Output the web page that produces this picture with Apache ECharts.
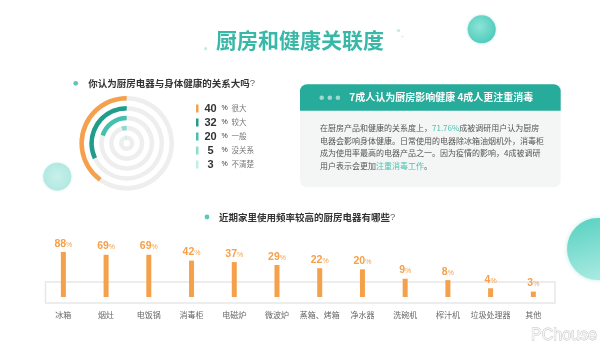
<!DOCTYPE html>
<html>
<head>
<meta charset="utf-8">
<script src="https://cdn.jsdelivr.net/npm/echarts@6/dist/echarts.min.js"></script>
<style>
html,body{margin:0;padding:0;background:#fff;}
#c{width:600px;height:345px;}
</style>
</head>
<body>
<div id="c"></div>
<script>
// ---- data ----
const titleText = '厨房和健康关联度';
const question1 = '你认为厨房电器与身体健康的关系大吗';
const question2 = '近期家里使用频率较高的厨房电器有哪些';
const ringLabels = ['很大', '较大', '一般', '没关系', '不清楚'];
const ringValues = [40, 32, 20, 5, 3];
const applianceNames = ['冰箱', '烟灶', '电饭锅', '消毒柜', '电磁炉', '微波炉', '蒸箱、烤箱', '净水器', '洗碗机', '榨汁机', '垃圾处理器', '其他'];
const applianceValues = [88, 69, 69, 42, 37, 29, 22, 20, 9, 8, 4, 3];
const cardTitle = '7成人认为厨房影响健康 4成人更注重消毒';
const cardLines = [
  ['在厨房产品和健康的关系度上，', '71.76%', '成被调研用户认为厨房'],
  ['电器会影响身体健康。日常使用的电器除冰箱油烟机外，消毒柜'],
  ['成为使用率最高的电器产品之一。因为疫情的影响，4成被调研'],
  ['用户表示会更加', '注重消毒工作', '。']
];

// ---- styles ----
const FONT = '"Liberation Sans", "Noto Sans CJK SC", sans-serif';
const CJK = '"Noto Sans CJK SC", "Liberation Sans", sans-serif';
const ringColors = ['#f6a04c', '#1f9c8a', '#45c0af', '#8fdccf', '#c4eee8'];
const orange = '#f5a04a';
const teal = '#3ab8a7';

const chart = echarts.init(document.getElementById('c'), null, {renderer: 'canvas'});

// polar ring series: one series per answer, each on its own ring
const ringCats = ringLabels.slice().reverse(); // inner -> outer
const ringSeries = ringLabels.map((name, i) => {
  const d = ringCats.map(c => (c === name ? ringValues[i] : '-'));
  return {
    type: 'bar',
    name: name,
    coordinateSystem: 'polar',
    stack: 'ring',
    data: d,
    barWidth: 4.5,
    itemStyle: {color: ringColors[i]},
    showBackground: i === 0,
    backgroundStyle: {color: '#eeeeee'},
    silent: true,
    z: 2
  };
});

// card body rich text
const bodyText = cardLines.map(parts => parts.map((p, k) => (parts.length === 3 && k === 1) ? '{h|' + p + '}' : p).join('')).join('\n');

const option = {
  animation: false,
  backgroundColor: '#ffffff',
  polar: {center: [126.7, 143.3], radius: [0.5, 50]},
  angleAxis: {type: 'value', min: 0, max: 100, startAngle: 90, clockwise: false, show: false},
  radiusAxis: {type: 'category', data: ringCats, show: false},
  legend: {
    data: ringLabels,
    orient: 'vertical',
    left: 196,
    top: 103,
    padding: 0,
    itemWidth: 2.5,
    itemHeight: 8,
    itemGap: 3,
    icon: 'rect',
    selectedMode: false,
    formatter: function (name) {
      const i = ringLabels.indexOf(name);
      return '{v|' + ringValues[i] + '}{p|%}{l|' + name + '}';
    },
    textStyle: {
      rich: {
        v: {fontSize: 11, fontWeight: 'bold', color: '#333', width: 14, align: 'center', lineHeight: 14, fontFamily: FONT},
        p: {fontSize: 7, color: '#333', width: 14, lineHeight: 14, fontFamily: FONT},
        l: {fontSize: 7.5, color: '#777', lineHeight: 14, fontFamily: CJK}
      }
    }
  },
  grid: {left: 42, right: 45.3, top: 250.4, bottom: 48, containLabel: false},
  xAxis: {
    type: 'category',
    data: applianceNames,
    axisLine: {show: false},
    axisTick: {show: false},
    splitLine: {show: false},
    axisLabel: {interval: 0, margin: 14, fontSize: 8, color: '#666', fontFamily: CJK}
  },
  yAxis: {
    type: 'log',
    logBase: 10,
    min: 1.9,
    max: 100,
    startValue: 1.9,
    show: false,
    splitLine: {show: false}
  },
  series: ringSeries.concat([{
    type: 'bar',
    name: 'appliances',
    data: applianceValues,
    barWidth: 5,
    clip: true,
    itemStyle: {color: orange},
    z: 3,
    label: {
      show: true,
      position: 'top',
      distance: 3,
      formatter: p => '{v|' + p.value + '}{p|%}',
      rich: {
        v: {fontSize: 10.5, fontWeight: 'bold', color: orange, fontFamily: FONT},
        p: {fontSize: 7, color: orange, fontFamily: FONT, padding: [2, 0, 0, 0]}
      }
    }
  }]),
  graphic: [
    // decorative spheres
    {type: 'circle', z: 0, silent: true, shape: {cx: 481.7, cy: 29.3, r: 14},
      style: {fill: new echarts.graphic.RadialGradient(0.42, 0.4, 0.65, [{offset: 0, color: '#8be4d7'}, {offset: 1, color: '#4ecabb'}]), shadowBlur: 3, shadowColor: 'rgba(78,202,187,0.4)'}},
    {type: 'circle', z: 0, silent: true, shape: {cx: 57.3, cy: 176.7, r: 14},
      style: {fill: new echarts.graphic.RadialGradient(0.5, 0.5, 0.6, [{offset: 0, color: '#c8f0ea'}, {offset: 1, color: '#ade7df'}]), shadowBlur: 3, shadowColor: 'rgba(173,231,223,0.5)'}},
    {type: 'circle', z: 0, silent: true, shape: {cx: 598, cy: 249, r: 31},
      style: {fill: new echarts.graphic.LinearGradient(0, 0, 0.3, 1, [{offset: 0, color: '#55d0c0'}, {offset: 1, color: '#a6e9e0'}]), shadowBlur: 4, shadowColor: 'rgba(85,208,192,0.4)'}},
    // title dots
    {type: 'circle', z: 0, silent: true, shape: {cx: 205.7, cy: 48.7, r: 1.6}, style: {fill: '#bfece5'}},
    {type: 'circle', z: 0, silent: true, shape: {cx: 398.5, cy: 30.6, r: 1.6}, style: {fill: '#bfece5'}},
    {type: 'circle', z: 0, silent: true, shape: {cx: 402.5, cy: 36.4, r: 1}, style: {fill: '#cfefe9'}},
    // title
    {type: 'text', z: 5, silent: true, style: {x: 300, y: 40, text: titleText, textAlign: 'center', textVerticalAlign: 'middle',
      fontSize: 21, fontWeight: 'bold', fontFamily: CJK, fill: teal}},
    // question 1
    {type: 'circle', z: 5, silent: true, shape: {cx: 75.7, cy: 83.3, r: 2.4}, style: {fill: '#5cc8b8'}},
    {type: 'text', z: 5, silent: true, style: {x: 88.3, y: 83.3, text: question1 + '{q|?}', textVerticalAlign: 'middle',
      fontSize: 9.5, fontWeight: 'bold', fontFamily: CJK, fill: '#333',
      rich: {q: {fontSize: 9.5, fontWeight: 'normal', fill: '#666', fontFamily: FONT}}}},
    // question 2
    {type: 'circle', z: 5, silent: true, shape: {cx: 207, cy: 217, r: 2.4}, style: {fill: '#5cc8b8'}},
    {type: 'text', z: 5, silent: true, style: {x: 219, y: 217, text: question2 + '{q|?}', textVerticalAlign: 'middle',
      fontSize: 9.5, fontWeight: 'bold', fontFamily: CJK, fill: '#333',
      rich: {q: {fontSize: 9.5, fontWeight: 'normal', fill: '#666', fontFamily: FONT}}}},
    // card
    {type: 'rect', z: 1, silent: true, shape: {x: 300, y: 110.5, width: 260.7, height: 76.8, r: [0, 0, 7, 7]}, style: {fill: '#f4f5f5'}},
    {type: 'rect', z: 1, silent: true, shape: {x: 300, y: 84.3, width: 260.7, height: 26.4, r: [7, 7, 0, 0]}, style: {fill: '#27ab9a'}},
    {type: 'circle', z: 2, silent: true, shape: {cx: 321.7, cy: 97.7, r: 2.3}, style: {fill: 'rgba(255,255,255,0.55)'}},
    {type: 'circle', z: 2, silent: true, shape: {cx: 329.8, cy: 97.7, r: 2.3}, style: {fill: 'rgba(255,255,255,0.55)'}},
    {type: 'circle', z: 2, silent: true, shape: {cx: 337.9, cy: 97.7, r: 2.3}, style: {fill: 'rgba(255,255,255,0.55)'}},
    {type: 'text', z: 2, silent: true, style: {x: 349.3, y: 97.7, text: cardTitle, textVerticalAlign: 'middle',
      fontSize: 10, fontWeight: 'bold', fontFamily: CJK, fill: '#ffffff'}},
    {type: 'text', z: 2, silent: true, style: {x: 320, y: 122, text: bodyText, textVerticalAlign: 'top',
      fontSize: 8, fontFamily: CJK, fill: '#555', lineHeight: 12.5,
      rich: {h: {fontSize: 8, fontFamily: CJK, fill: '#4cc3b3', lineHeight: 12.5}}}},
    // bar frame
    {type: 'rect', z: 0, silent: true, shape: {x: 45.5, y: 282, width: 509.5, height: 21}, style: {fill: 'none', stroke: '#e8e8e8', lineWidth: 1.5}},
    // watermark
    {type: 'text', z: 5, silent: true, style: {x: 564, y: 336, text: 'PChouse', textAlign: 'center', textVerticalAlign: 'middle',
      fontSize: 16, fontFamily: FONT, fill: '#f6f6f6', stroke: '#bdbdbd', lineWidth: 0.8}}
  ]
};

chart.setOption(option);
</script>
</body>
</html>
